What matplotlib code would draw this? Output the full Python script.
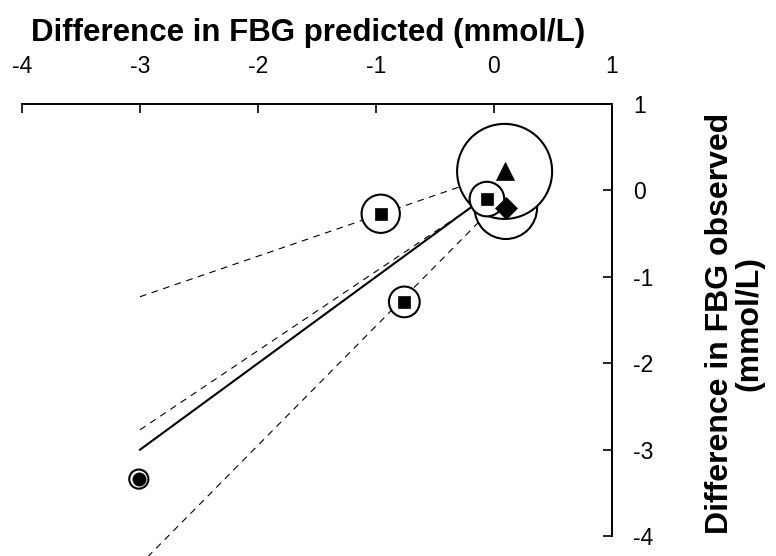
import matplotlib
matplotlib.use('Agg')
import matplotlib.pyplot as plt

plt.rcParams['font.family'] = ['Liberation Sans', 'DejaVu Sans']
plt.rcParams['axes.unicode_minus'] = False

# Study estimates (predicted vs observed difference in FBG, mmol/L)
pred = [0.10, 0.09, -0.06, -0.96, -0.76, -3.01]
obs = [-0.20, 0.22, -0.10, -0.27, -1.29, -3.34]
weights = [20.3, 46.8, 6.2, 7.6, 4.9, 1.9]   # relative bubble area
markers = ['D', '^', 's', 's', 's', 'o']

# Line of identity and fitted lines
ident_x = [-3, 0]
ident_y = [-3, 0]
dash_x = [[-3, 0.09], [-3, 0.0], [-3, 0.10]]
dash_y = [[-1.23, 0.22], [-2.77, -0.02], [-4.33, -0.05]]

fig = plt.figure(figsize=(7.76, 5.56), dpi=100)
ax = fig.add_axes([22 / 776, 0.0, 590 / 776, 452 / 556])

ax.plot(ident_x, ident_y, color='black', lw=1.5, zorder=1)
for xs, ys in zip(dash_x, dash_y):
    ax.plot(xs, ys, color='black', lw=0.8, ls=(0, (6, 5)), zorder=1)

# bubbles (white filled so they hide the lines behind)
ax.scatter(pred, obs, s=[w * 100 for w in weights], facecolors='white',
           edgecolors='black', linewidths=1.5, zorder=2)

msizes = {'D': 11, '^': 12.5, 's': 8, 'o': 9.5}
for x, y, m in zip(pred, obs, markers):
    ax.plot(x, y, marker=m, ms=msizes[m], color='black', mew=0.5,
            ls='none', zorder=3)

ax.set_xlim(-4, 1)
ax.set_ylim(-4.23, 1)
ax.set_xticks([-4, -3, -2, -1, 0, 1])
ax.set_yticks([1, 0, -1, -2, -3, -4])

ax.spines['left'].set_visible(False)
ax.spines['bottom'].set_visible(False)
ax.spines['top'].set_linewidth(1.4)
ax.spines['right'].set_linewidth(1.4)
ax.spines['right'].set_bounds(-4, 1)

ax.xaxis.tick_top()
ax.yaxis.tick_right()
ax.tick_params(axis='x', direction='in', length=6.5, width=1.2, pad=19,
               labelsize=16.5)
ax.tick_params(axis='y', direction='in', length=6.5, width=1.2, pad=15,
               labelsize=16.5)

ax.xaxis.set_label_position('top')
ax.set_xlabel('Difference in FBG predicted (mmol/L)', fontsize=22.5,
              fontweight='bold', va='baseline', ha='center')
ax.xaxis.set_label_coords(0.4847, 1.140)

ax.yaxis.set_label_position('right')
ax.set_ylabel('Difference in FBG observed\n(mmol/L)', fontsize=23,
              fontweight='bold', rotation=90, va='center', ha='center',
              multialignment='center', rotation_mode='default',
              linespacing=1.0)
ax.yaxis.set_label_coords(1.208, 0.515)

fig.savefig('out.png', dpi=100)
